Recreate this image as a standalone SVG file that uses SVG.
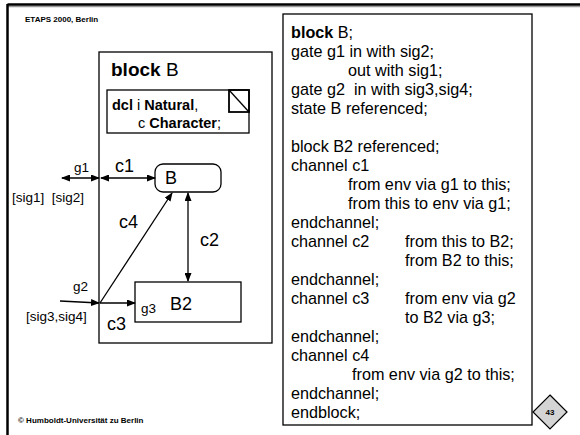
<svg xmlns="http://www.w3.org/2000/svg" width="580" height="435" viewBox="0 0 580 435">
<style>
  .t{font-family:"Liberation Sans",Arial,sans-serif;fill:#000}
  .b{font-weight:bold}
  .box{fill:#fff;stroke:#000;stroke-width:1.3}
  .ln{stroke:#000;stroke-width:1.3;fill:none}
  .code{font-family:"Liberation Sans",Arial,sans-serif;font-size:16.2px;fill:#000}
  .lbl{font-family:"Liberation Sans",Arial,sans-serif;font-size:18px;fill:#000}
  .sm{font-family:"Liberation Sans",Arial,sans-serif;font-size:13.5px;fill:#000}
</style>
<defs>
  <marker id="ah" markerWidth="9" markerHeight="7" refX="8" refY="3.5" orient="auto-start-reverse" markerUnits="userSpaceOnUse">
    <path d="M0,0 L9,3.5 L0,7 z" fill="#000"/>
  </marker>
</defs>
<rect width="580" height="435" fill="#fff"/>
<g id="frame">
  <line x1="7" y1="6.5" x2="580" y2="6.5" stroke="#999" stroke-width="1.5"/>
  <line x1="7.5" y1="4.5" x2="580" y2="4.5" stroke="#000" stroke-width="2.5"/>
  <line x1="7.5" y1="4" x2="7.5" y2="435" stroke="#000" stroke-width="2.5"/>
  <text class="t b" x="25" y="22" font-size="8">ETAPS 2000, Berlin</text>
  <text class="t b" x="18" y="423" font-size="8">© Humboldt-Universität zu Berlin</text>
</g>
<g id="blockB">
  <rect class="box" x="99" y="52" width="173" height="291"/>
  <text class="t" x="111" y="76" font-size="19"><tspan font-weight="bold">block</tspan> B</text>
</g>
<g id="dcl">
  <rect class="box" x="107" y="90" width="142" height="43"/>
  <rect x="229" y="90" width="20" height="22" fill="none" stroke="#000" stroke-width="1.8"/>
  <line class="ln" x1="229" y1="90" x2="249" y2="112"/>
  <text class="t" x="112" y="110" font-size="14.5"><tspan font-weight="bold">dcl</tspan> i <tspan font-weight="bold">Natural</tspan>,</text>
  <text class="t" x="138" y="128" font-size="14.5">c <tspan font-weight="bold">Character</tspan>;</text>
</g>
<g id="stateB">
  <rect class="box" x="155" y="164" width="66" height="28" rx="8"/>
  <text class="lbl" x="165" y="184">B</text>
</g>
<g id="B2">
  <rect class="box" x="135" y="282" width="106" height="40"/>
  <text class="lbl" x="170" y="310">B2</text>
  <text class="sm" x="141" y="313">g3</text>
</g>
<g id="connectors">
  <line class="ln" x1="62" y1="178" x2="99" y2="178" marker-start="url(#ah)" marker-end="url(#ah)"/>
  <line class="ln" x1="101" y1="178" x2="155" y2="178" marker-start="url(#ah)" marker-end="url(#ah)"/>
  <line class="ln" x1="188" y1="193" x2="188" y2="281" marker-start="url(#ah)" marker-end="url(#ah)"/>
  <line class="ln" x1="100" y1="303" x2="172" y2="193" marker-end="url(#ah)"/>
  <line class="ln" x1="100" y1="303" x2="135" y2="303" marker-end="url(#ah)"/>
  <line class="ln" x1="60" y1="301" x2="99" y2="303" marker-end="url(#ah)"/>
  <text class="sm" x="74" y="172">g1</text>
  <text class="lbl" x="115" y="172">c1</text>
  <text class="sm" x="12" y="202" xml:space="preserve">[sig1]  [sig2]</text>
  <text class="lbl" x="119" y="228">c4</text>
  <text class="lbl" x="200" y="246">c2</text>
  <text class="sm" x="73" y="291">g2</text>
  <text class="sm" x="26" y="321">[sig3,sig4]</text>
  <text class="lbl" x="107" y="330">c3</text>
</g>
<g id="code">
  <rect class="box" x="283" y="14" width="249" height="411"/>
  <text class="code" x="291" y="38"><tspan font-weight="bold">block</tspan> B;</text>
  <text class="code" x="291" y="57">gate g1 in with sig2;</text>
  <text class="code" x="348" y="76">out with sig1;</text>
  <text class="code" x="291" y="95" xml:space="preserve">gate g2  in with sig3,sig4;</text>
  <text class="code" x="291" y="114">state B referenced;</text>
  <text class="code" x="291" y="152">block B2 referenced;</text>
  <text class="code" x="291" y="171">channel c1</text>
  <text class="code" x="348" y="190">from env via g1 to this;</text>
  <text class="code" x="348" y="209">from this to env via g1;</text>
  <text class="code" x="291" y="228">endchannel;</text>
  <text class="code" x="291" y="247">channel c2</text>
  <text class="code" x="405" y="247">from this to B2;</text>
  <text class="code" x="405" y="266">from B2 to this;</text>
  <text class="code" x="291" y="285">endchannel;</text>
  <text class="code" x="291" y="304">channel c3</text>
  <text class="code" x="405" y="304">from env via g2</text>
  <text class="code" x="405" y="323">to B2 via g3;</text>
  <text class="code" x="291" y="342">endchannel;</text>
  <text class="code" x="291" y="361">channel c4</text>
  <text class="code" x="352" y="380">from env via g2 to this;</text>
  <text class="code" x="291" y="399">endchannel;</text>
  <text class="code" x="291" y="418">endblock;</text>
</g>
<g id="page">
  <polygon points="550,395 567,412 550,429 533,412" fill="#d4d4d4" stroke="#000" stroke-width="1.2"/>
  <text class="t b" x="550" y="415" font-size="8" text-anchor="middle">43</text>
</g>
</svg>
